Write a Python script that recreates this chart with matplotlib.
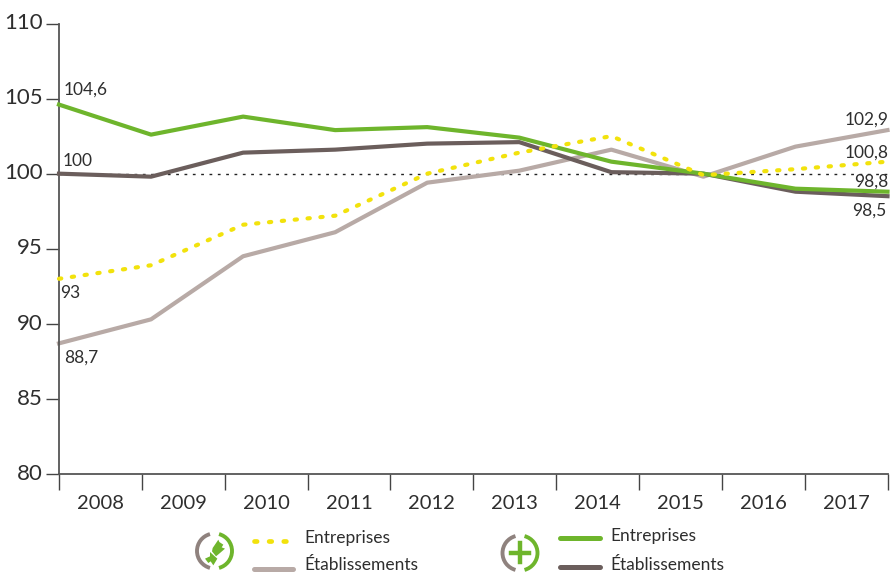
import matplotlib
matplotlib.use("Agg")
import matplotlib.pyplot as plt
from matplotlib.patches import Arc, Polygon
from matplotlib.lines import Line2D

plt.rcParams['font.family'] = ['Lato', 'DejaVu Sans']

years = ['2008','2009','2010','2011','2012','2013','2014','2015','2016','2017']
ent_a = [93, 93.9, 96.6, 97.2, 100, 101.4, 102.5, 99.9, 100.3, 100.8]
etab_a = [88.7, 90.3, 94.5, 96.1, 99.4, 100.2, 101.6, 99.8, 101.8, 102.9]
ent_b = [104.6, 102.6, 103.8, 102.9, 103.1, 102.4, 100.8, 100, 99, 98.8]
etab_b = [100, 99.8, 101.4, 101.6, 102, 102.1, 100.1, 100, 98.8, 98.5]
yticks = [80, 85, 90, 95, 100, 105, 110]

YELLOW, TAUPE, GREEN, DARK = '#f2e20c', '#b8aaa6', '#6eb52c', '#6b5e5c'
INK = '#2e2e2e'
W, H = 890, 574
fig = plt.figure(figsize=(W/100, H/100), dpi=100)
L, R, T, B = 59, 887.5, 23.5, 474
ax = fig.add_axes([L/W, 1-B/H, (R-L)/W, (B-T)/H])
x = list(range(len(years)))
ax.set_xlim(0, 9); ax.set_ylim(80, 110)

ax.axhline(100, color='#222222', lw=1, ls=(0, (2, 4)), zorder=1)
lw = 3
ax.plot(x, etab_a, color=TAUPE, lw=lw, zorder=2, clip_on=False)
ax.plot(x, etab_b, color=DARK, lw=lw, zorder=3, clip_on=False)
ax.plot(x, ent_b, color=GREEN, lw=lw, zorder=4, clip_on=False)
ax.plot(x, ent_a, color=YELLOW, lw=lw, ls=(0, (0.55, 2.55)), dash_capstyle='round', zorder=5, clip_on=False)

for s in ('top', 'right'):
    ax.spines[s].set_visible(False)
for s in ('left', 'bottom'):
    ax.spines[s].set_color('#555555'); ax.spines[s].set_linewidth(1.3)

ax.set_yticks(yticks)
ax.set_yticklabels([])
ax.tick_params(axis='y', length=9.4, width=1, color='#444444')
for v in yticks:
    ax.annotate(str(v), xy=(0, v), xycoords='data', xytext=(-12, 0.2), textcoords='offset points',
                ha='right', va='center', fontsize=16, color=INK, annotation_clip=False)
step = 9/len(years)
ax.set_xticks([i*step for i in range(len(years)+1)])
ax.set_xticklabels([])
ax.tick_params(axis='x', length=11.5, width=1, color='#444444')
for i, y in enumerate(years):
    ax.annotate(y, xy=((i+.5)*step, 80), xycoords='data', xytext=(0, -21), textcoords='offset points',
                ha='center', va='center', fontsize=14.5, color=INK, annotation_clip=False)

def lab(txt, px, py):
    fig.text(px/W, 1-py/H, txt, ha='center', va='center', fontsize=12.5, color=INK)
for t, px, py in [('104,6', 86, 90), ('100', 78, 161), ('93', 70, 293), ('88,7', 81, 358),
                  ('102,9', 867, 120), ('100,8', 867, 153), ('98,8', 871, 182), ('98,5', 869, 211)]:
    lab(t, px, py)

ov = fig.add_axes([0, 0, 1, 1], facecolor='none')
ov.set_xlim(0, W); ov.set_ylim(H, 0); ov.axis('off')

def icon(cx, cy):
    ov.add_patch(Arc((cx, cy), 35, 35, theta1=105, theta2=255, color='#8f827e', lw=2.8))
    ov.add_patch(Arc((cx, cy), 35, 35, theta1=-75, theta2=75, color=GREEN, lw=2.8))

icon(214.5, 551)
piece1 = [(68,60),(85,35),(88,42),(100,50),(95,58),(105,62),(90,75),(78,85),(66,70)]
piece2 = [(45,92),(60,85),(60,72),(82,92),(70,112),(62,100),(55,105)]
for p in (piece1, piece2):
    ov.add_patch(Polygon([(190+a/3, 528+b/3) for a, b in p], closed=True, color=GREEN, lw=0))
icon(520, 553)
ov.add_line(Line2D([511, 529], [552.5, 552.5], color=GREEN, lw=3.2))
ov.add_line(Line2D([520, 520], [543, 562], color=GREEN, lw=3.2))

ov.add_line(Line2D([254, 294], [541, 541], color=YELLOW, lw=3.4, ls=(0, (0.55, 2.55)), dash_capstyle='round'))
for xs, yy, c in [((254, 293), 569, TAUPE), ((560, 600), 538, GREEN), ((560, 600), 567, DARK)]:
    ov.add_line(Line2D(xs, [yy, yy], color=c, lw=3.6, solid_capstyle='round'))
for t, px, py in [('Entreprises', 304, 538), ('Établissements', 304, 565),
                  ('Entreprises', 610, 536), ('Établissements', 610, 565)]:
    ov.text(px, py, t, ha='left', va='center', fontsize=12.5, color=INK)

fig.savefig('out.png', dpi=100)
